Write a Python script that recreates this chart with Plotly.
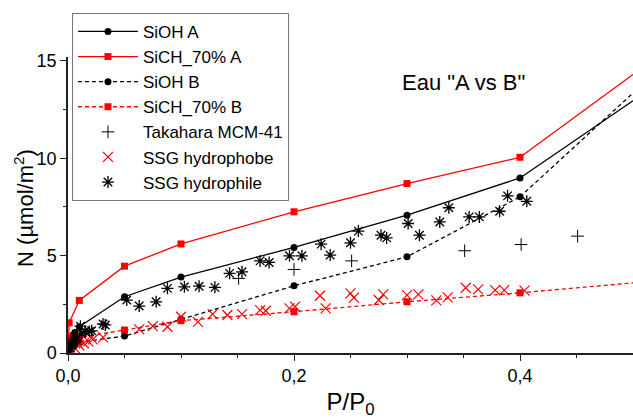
import plotly.graph_objects as go

# ---- data ----
siohA_x = [0.0005, 0.001, 0.002, 0.004, 0.006, 0.01, 0.05, 0.1, 0.2, 0.3, 0.4]
siohA_y = [0.2, 0.45, 0.7, 0.9, 1.05, 1.35, 2.89, 3.9, 5.42, 7.08, 8.99]
siohA_ext_x = [0.4, 0.5]
siohA_ext_y = [8.99, 12.95]

sichA_x = [0.0002, 0.0005, 0.001, 0.01, 0.05, 0.1, 0.2, 0.3, 0.4]
sichA_y = [0.15, 0.8, 1.55, 2.7, 4.46, 5.6, 7.25, 8.7, 10.05]
sichA_ext_x = [0.4, 0.5]
sichA_ext_y = [10.05, 14.3]

siohB_x = [0.0005, 0.002, 0.005, 0.01, 0.05, 0.1, 0.2, 0.3, 0.4]
siohB_y = [0.1, 0.25, 0.4, 0.55, 0.87, 1.73, 3.45, 4.94, 8.02]
siohB_ext_x = [0.4, 0.5]
siohB_ext_y = [8.02, 13.35]

sichB_x = [0.0005, 0.002, 0.005, 0.01, 0.05, 0.1, 0.2, 0.3, 0.4]
sichB_y = [0.15, 0.35, 0.6, 0.8, 1.18, 1.66, 2.12, 2.63, 3.09]
sichB_ext_x = [0.4, 0.5]
sichB_ext_y = [3.09, 3.6]

taka_x = [0.002, 0.005, 0.01, 0.151, 0.2, 0.251, 0.351, 0.401, 0.451]
taka_y = [0.3, 0.6, 0.9, 3.83, 4.29, 4.73, 5.25, 5.57, 6.0]

phob_x = [0.003, 0.006, 0.01, 0.014, 0.018, 0.022, 0.031, 0.063, 0.075, 0.088, 0.1,
          0.115, 0.128, 0.141, 0.154, 0.17, 0.175, 0.196, 0.201, 0.223, 0.228, 0.25,
          0.253, 0.275, 0.279, 0.3, 0.31, 0.326, 0.336, 0.352, 0.363, 0.378, 0.386, 0.404]
phob_y = [0.1, 0.25, 0.4, 0.5, 0.6, 0.7, 0.8, 1.21, 1.38, 1.35, 1.86,
          1.6, 2.0, 1.95, 2.0, 2.2, 2.17, 2.29, 2.38, 2.94, 2.29, 3.06,
          2.84, 2.72, 3.01, 2.97, 3.01, 2.7, 2.86, 3.35, 3.27, 3.23, 3.23, 3.2]

phil_x = [0.001, 0.002, 0.003, 0.004, 0.005, 0.006, 0.008, 0.011, 0.012, 0.015, 0.019,
          0.021, 0.031, 0.033, 0.052, 0.063, 0.078, 0.088, 0.103, 0.116, 0.13, 0.143,
          0.154, 0.17, 0.178, 0.196, 0.207, 0.224, 0.232, 0.25, 0.257, 0.277, 0.282,
          0.301, 0.311, 0.329, 0.337, 0.355, 0.364, 0.382, 0.389, 0.406]
phil_y = [0.1, 0.25, 0.4, 0.5, 0.6, 0.7, 0.8, 1.38, 1.0, 1.1, 1.1,
          1.14, 1.49, 1.44, 2.72, 2.41, 2.63, 3.32, 3.4, 3.43, 3.37, 4.09,
          4.17, 4.73, 4.65, 4.99, 4.99, 5.59, 5.03, 5.66, 6.26, 6.05, 5.91,
          6.65, 6.05, 6.73, 7.46, 6.99, 6.99, 7.28, 8.07, 7.79]

x_ticks = [0.0, 0.2, 0.4]
y_ticks = [0, 5, 10, 15]

RED = "#ff0000"
BLK = "#000000"
LW = 1.3
FONT = "Liberation Sans, Arial, sans-serif"

fig = go.Figure()

def series(name, x, y, ex, ey, color, dash, symbol):
    fig.add_trace(go.Scatter(x=ex, y=ey, mode="lines", showlegend=False,
                             line=dict(color=color, width=LW, dash=dash), hoverinfo="skip"))
    fig.add_trace(go.Scatter(x=x, y=y, mode="lines+markers", name=name,
                             line=dict(color=color, width=LW, dash=dash),
                             marker=dict(symbol=symbol, size=7, color=color)))

series("SiOH A", siohA_x, siohA_y, siohA_ext_x, siohA_ext_y, BLK, "solid", "circle")
series("SiCH_70% A", sichA_x, sichA_y, sichA_ext_x, sichA_ext_y, RED, "solid", "square")
series("SiOH B", siohB_x, siohB_y, siohB_ext_x, siohB_ext_y, BLK, "4px,3px", "circle")
series("SiCH_70% B", sichB_x, sichB_y, sichB_ext_x, sichB_ext_y, RED, "4px,3px", "square")

fig.add_trace(go.Scatter(x=taka_x, y=taka_y, mode="markers", name="Takahara MCM-41",
                         marker=dict(symbol="cross-thin-open", size=9, color=BLK,
                                     line=dict(color=BLK, width=1))))
fig.add_trace(go.Scatter(x=phob_x, y=phob_y, mode="markers", name="SSG hydrophobe",
                         marker=dict(symbol="x-thin-open", size=10, color=RED,
                                     line=dict(color=RED, width=1.2))))
fig.add_trace(go.Scatter(x=phil_x, y=phil_y, mode="markers", name="SSG hydrophile",
                         marker=dict(symbol="asterisk-open", size=10, color=BLK,
                                     line=dict(color=BLK, width=1.3))))

fig.add_annotation(x=0.35, y=13.9, xref="x", yref="y", text='Eau "A vs B"',
                   showarrow=False, xanchor="center", yanchor="middle",
                   font=dict(size=22, color=BLK))

# y-axis title placed as a rotated annotation (position like the reference)
fig.add_annotation(x=-0.078, y=0.49, xref="paper", yref="paper",
                   text="N (µmol/m<sup>2</sup>)", textangle=-90, showarrow=False,
                   xanchor="center", yanchor="middle", font=dict(size=22, color=BLK))

axis_common = dict(showgrid=False, zeroline=False, showline=True, linecolor="#222",
                   linewidth=1.5, ticks="outside", ticklen=6, tickwidth=1.3,
                   tickcolor="#222", automargin=False,
                   tickfont=dict(size=18, color=BLK, family=FONT))

fig.update_layout(
    width=633, height=419,
    margin=dict(l=68, r=0, t=57, b=66),
    paper_bgcolor="white", plot_bgcolor="white",
    separators=", ",
    font=dict(family=FONT, color=BLK),
    xaxis=dict(range=[0, 0.5], tickvals=x_ticks, tickformat=".1f",
               minor=dict(dtick=0.05, tick0=0, ticks="outside", ticklen=3, tickcolor="#222"),
               title=dict(text="P/P<sub>0</sub>", font=dict(size=24), standoff=9),
               **axis_common),
    yaxis=dict(range=[0, 15.2], tickvals=y_ticks,
               minor=dict(dtick=2.5, tick0=0, ticks="outside", ticklen=3, tickcolor="#222"),
               **axis_common),
    legend=dict(x=0.007, y=1.149, xanchor="left", yanchor="top",
                bgcolor="white", bordercolor="#777", borderwidth=1,
                font=dict(size=17, color=BLK), tracegroupgap=0, itemwidth=60),
)

fig.write_html("out.html", config={"displayModeBar": False},
               post_script="document.body.style.margin='0';")
